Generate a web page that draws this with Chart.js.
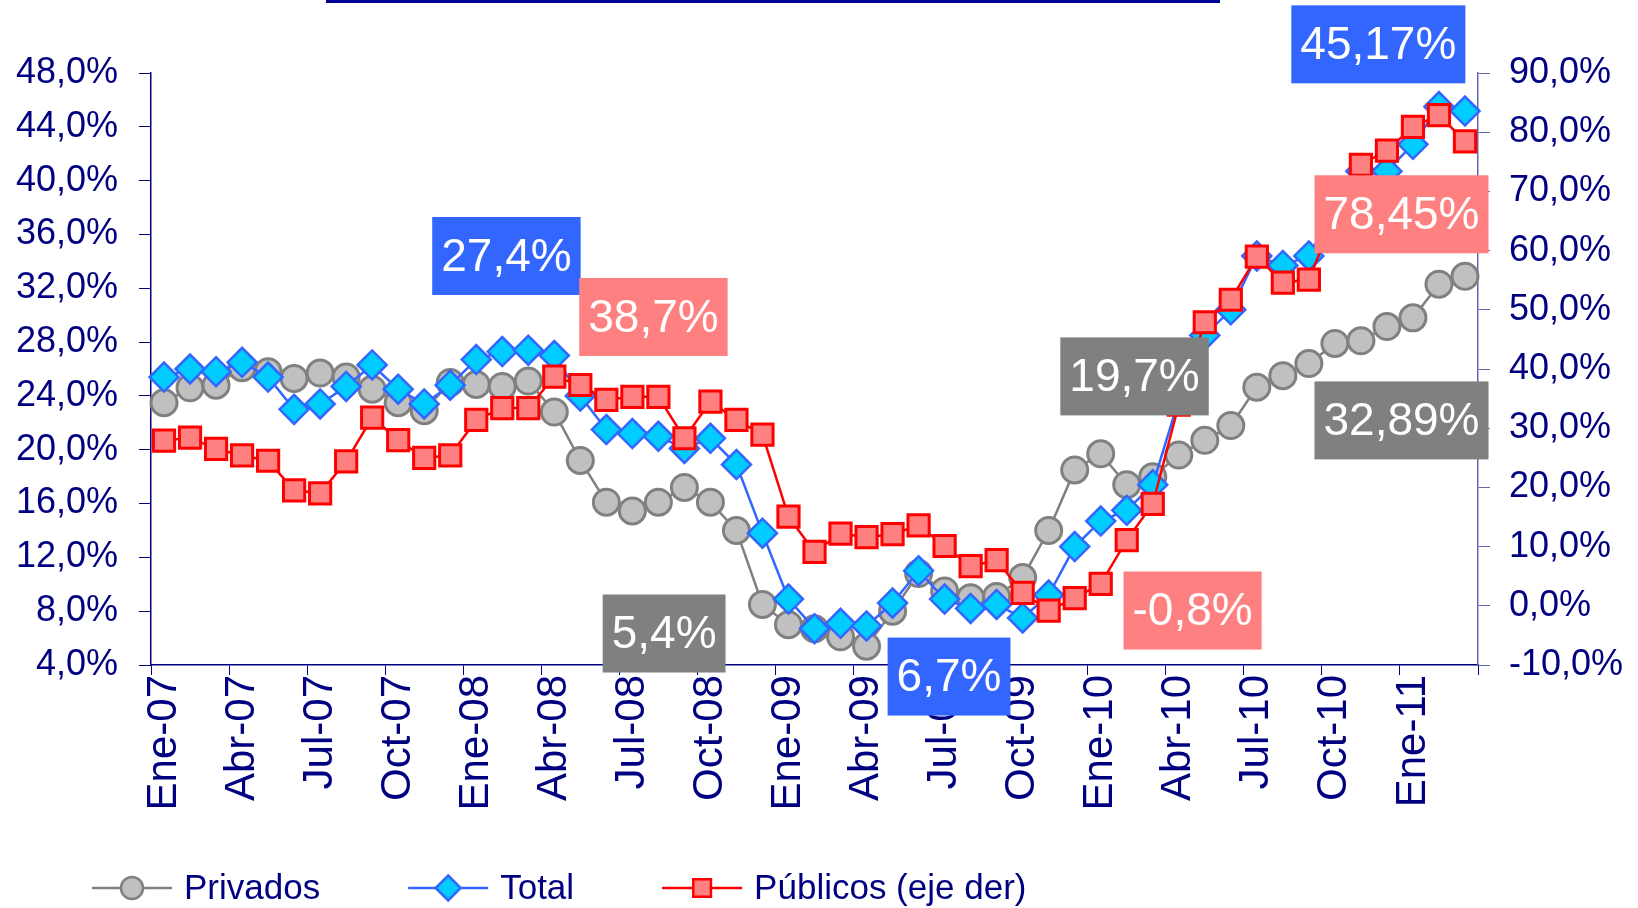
<!DOCTYPE html>
<html>
<head>
<meta charset="utf-8">
<script src="https://cdn.jsdelivr.net/npm/chart.js@4.4.1/dist/chart.umd.min.js"></script>
<style>
  html, body { margin: 0; padding: 0; background: #ffffff; }
  #wrap { width: 1638px; height: 908px; position: relative; }
</style>
</head>
<body>
<div id="wrap"><canvas id="grafico"></canvas></div>
<script>
// meses Ene-07 .. Mar-11
const meses = ['Ene', 'Feb', 'Mar', 'Abr', 'May', 'Jun', 'Jul', 'Ago', 'Sep', 'Oct', 'Nov', 'Dic'];
const anios = ['07', '08', '09', '10', '11'];
const categorias = [];
anios.forEach(a => meses.forEach(m => { if (categorias.length < 51) categorias.push(m + '-' + a); }));

// eje izquierdo (%)
const privados = [23.5, 24.6, 24.8, 26.1, 25.8, 25.3, 25.7, 25.4, 24.5, 23.5, 22.9, 25.0,
  24.85, 24.7, 25.1, 22.8, 19.2, 16.1, 15.45, 16.1, 17.2, 16.1, 14.0, 8.5,
  7.0, 6.7, 6.1, 5.4, 8.0, 10.8, 9.5, 9.0, 9.1, 10.5, 14.0, 18.5,
  19.7, 17.4, 18.0, 19.6, 20.7, 21.8, 24.65, 25.5, 26.4, 27.9, 28.1, 29.15,
  29.8, 32.3, 32.89];
const total = [25.4, 26.0, 25.8, 26.5, 25.4, 23.0, 23.4, 24.7, 26.3, 24.5, 23.4, 24.8,
  26.7, 27.3, 27.4, 27.0, 24.0, 21.5, 21.2, 21.0, 20.1, 20.85, 18.9, 13.8,
  8.9, 6.7, 7.1, 6.9, 8.6, 11.0, 8.9, 8.2, 8.5, 7.5, 9.2, 12.8,
  14.7, 15.5, 17.4, 23.7, 28.5, 30.4, 34.4, 33.7, 34.4, 38.0, 40.7, 40.7,
  42.7, 45.5, 45.17];
// eje derecho (%)
const publicos = [27.9, 28.4, 26.5, 25.4, 24.5, 19.5, 19.0, 24.4, 31.8, 28.0, 25.0, 25.4,
  31.4, 33.4, 33.4, 38.7, 37.3, 34.8, 35.3, 35.3, 28.3, 34.5, 31.4, 28.9,
  15.05, 9.1, 12.2, 11.6, 12.1, 13.6, 10.1, 6.7, 7.7, 2.2, -0.8, 1.3,
  3.7, 11.1, 17.2, 34.0, 47.9, 51.7, 59.0, 54.6, 55.1, 66.0, 74.5, 76.9,
  80.9, 82.9, 78.45];

const ticksIzq = { min: 4, max: 48, paso: 4 };
const ticksDer = { min: -10, max: 90, paso: 10 };

const AZUL_TEXTO = '#000080';
const FUENTE = '"Liberation Sans", Arial, sans-serif';
const fmt = v => v.toFixed(1).replace('.', ',') + '%';

// cuadros de texto (posicion en unidades de los ejes)
const cuadros = [
  { texto: '27,4%', fondo: '#3366FF', idx: 13.16, valor: 34.4 },
  { texto: '38,7%', fondo: '#FF8080', idx: 18.81, valor: 29.87 },
  { texto: '5,4%', fondo: '#808080', idx: 19.22, valor: 6.34 },
  { texto: '6,7%', fondo: '#3366FF', idx: 30.17, valor: 3.14 },
  { texto: '19,7%', fondo: '#808080', idx: 37.3, valor: 25.45 },
  { texto: '-0,8%', fondo: '#FF8080', idx: 39.53, valor: 8.05 },
  { texto: '45,17%', fondo: '#3366FF', idx: 46.67, valor: 50.13 },
  { texto: '78,45%', fondo: '#FF8080', idx: 47.56, valor: 37.5 },
  { texto: '32,89%', fondo: '#808080', idx: 47.56, valor: 22.18 }
];

function marcador(ctx, estilo, x, y, r, relleno, borde, grosor) {
  ctx.save();
  ctx.fillStyle = relleno;
  ctx.strokeStyle = borde;
  ctx.lineWidth = grosor;
  ctx.beginPath();
  if (estilo === 'circle') {
    ctx.arc(x, y, r, 0, Math.PI * 2);
  } else if (estilo === 'rectRot') {
    ctx.moveTo(x, y - r); ctx.lineTo(x + r, y); ctx.lineTo(x, y + r); ctx.lineTo(x - r, y); ctx.closePath();
  } else {
    const s = r * Math.SQRT1_2;
    ctx.rect(x - s, y - s, 2 * s, 2 * s);
  }
  ctx.fill();
  ctx.stroke();
  ctx.restore();
}

const barraSuperior = {
  id: 'barraSuperior',
  beforeDraw(chart) {
    const ctx = chart.ctx;
    ctx.save();
    ctx.fillStyle = '#000099';
    ctx.fillRect(326, 0, 894, 3);
    ctx.restore();
  }
};

const textos = {
  id: 'textos',
  afterDatasetsDraw(chart) {
    const ctx = chart.ctx;
    const sx = chart.scales.x, sy = chart.scales.y;
    ctx.save();
    ctx.font = '46px ' + FUENTE;
    ctx.textAlign = 'center';
    ctx.textBaseline = 'middle';
    cuadros.forEach(c => {
      const cx = sx.getPixelForValue(c.idx);
      const cy = sy.getPixelForValue(c.valor);
      const w = ctx.measureText(c.texto).width + 18;
      const h = 78;
      ctx.fillStyle = c.fondo;
      ctx.fillRect(cx - w / 2, cy - h / 2, w, h);
      ctx.fillStyle = '#ffffff';
      ctx.fillText(c.texto, cx, cy + 2);
    });
    ctx.restore();
  }
};

const leyenda = {
  id: 'leyenda',
  afterDraw(chart) {
    const ctx = chart.ctx;
    const y = 888;
    let x = 92;
    ctx.save();
    ctx.font = '35px ' + FUENTE;
    ctx.textBaseline = 'middle';
    chart.data.datasets.forEach(ds => {
      ctx.strokeStyle = ds.borderColor;
      ctx.lineWidth = 2.5;
      ctx.beginPath(); ctx.moveTo(x, y); ctx.lineTo(x + 80, y); ctx.stroke();
      marcador(ctx, ds.pointStyle, x + 40, y, ds.pointStyle === 'circle' ? 11 : 12.5,
        ds.pointBackgroundColor, ds.pointBorderColor, 2.5);
      ctx.fillStyle = AZUL_TEXTO;
      ctx.fillText(ds.label, x + 92, y + 1);
      x += 92 + ctx.measureText(ds.label).width + 88;
    });
    ctx.restore();
  }
};

const ctx = document.getElementById('grafico').getContext('2d');
new Chart(ctx, {
  type: 'line',
  data: {
    labels: categorias,
    datasets: [
      {
        label: 'Privados', data: privados, yAxisID: 'y', order: 3,
        borderColor: '#808080', borderWidth: 2.5,
        pointStyle: 'circle', pointRadius: 13,
        pointBackgroundColor: '#C0C0C0', pointBorderColor: '#808080', pointBorderWidth: 3
      },
      {
        label: 'Total', data: total, yAxisID: 'y', order: 2,
        borderColor: '#3366FF', borderWidth: 2.5,
        pointStyle: 'rectRot', pointRadius: 14.5,
        pointBackgroundColor: '#00CCFF', pointBorderColor: '#3366FF', pointBorderWidth: 2.5
      },
      {
        label: 'Públicos (eje der)', data: publicos, yAxisID: 'y1', order: 1,
        borderColor: '#FF0000', borderWidth: 2.5,
        pointStyle: 'rect', pointRadius: 15,
        pointBackgroundColor: '#FF8080', pointBorderColor: '#FF0000', pointBorderWidth: 3
      }
    ]
  },
  options: {
    responsive: true,
    maintainAspectRatio: false,
    animation: false,
    events: [],
    layout: { padding: { top: 73, left: 0, right: 0, bottom: 0 } },
    elements: { line: { tension: 0 } },
    plugins: { legend: { display: false }, title: { display: false }, tooltip: { enabled: false } },
    scales: {
      x: {
        type: 'category',
        offset: true,
        grid: {
          offset: true,
          drawOnChartArea: false,
          drawTicks: true,
          tickLength: 10,
          tickColor: c => (c.index === undefined || c.index % 3 === 0) ? AZUL_TEXTO : 'rgba(0,0,0,0)'
        },
        border: { color: AZUL_TEXTO, width: 1.5 },
        ticks: {
          autoSkip: false,
          minRotation: 90,
          maxRotation: 90,
          padding: 0,
          color: AZUL_TEXTO,
          font: { family: FUENTE, size: 42 },
          callback: function (v, i) { return i % 3 === 0 ? categorias[i] : ''; }
        },
        afterFit: s => { s.height = 243; }
      },
      y: {
        position: 'left',
        min: ticksIzq.min, max: ticksIzq.max,
        grid: { drawOnChartArea: false, tickLength: 12, tickColor: AZUL_TEXTO },
        border: { color: AZUL_TEXTO, width: 1.5 },
        ticks: {
          stepSize: ticksIzq.paso, padding: 21, color: AZUL_TEXTO,
          font: { family: FUENTE, size: 36 },
          callback: v => fmt(v)
        },
        afterFit: s => { s.width = 151; }
      },
      y1: {
        position: 'right',
        min: ticksDer.min, max: ticksDer.max,
        grid: { drawOnChartArea: false, tickLength: 12, tickColor: '#6666AA' },
        border: { color: '#6666AA', width: 1.5 },
        ticks: {
          stepSize: ticksDer.paso, padding: 19, color: AZUL_TEXTO,
          font: { family: FUENTE, size: 36 },
          callback: v => fmt(v)
        },
        afterFit: s => { s.width = 160; }
      }
    }
  },
  plugins: [barraSuperior, textos, leyenda]
});
</script>
</body>
</html>
